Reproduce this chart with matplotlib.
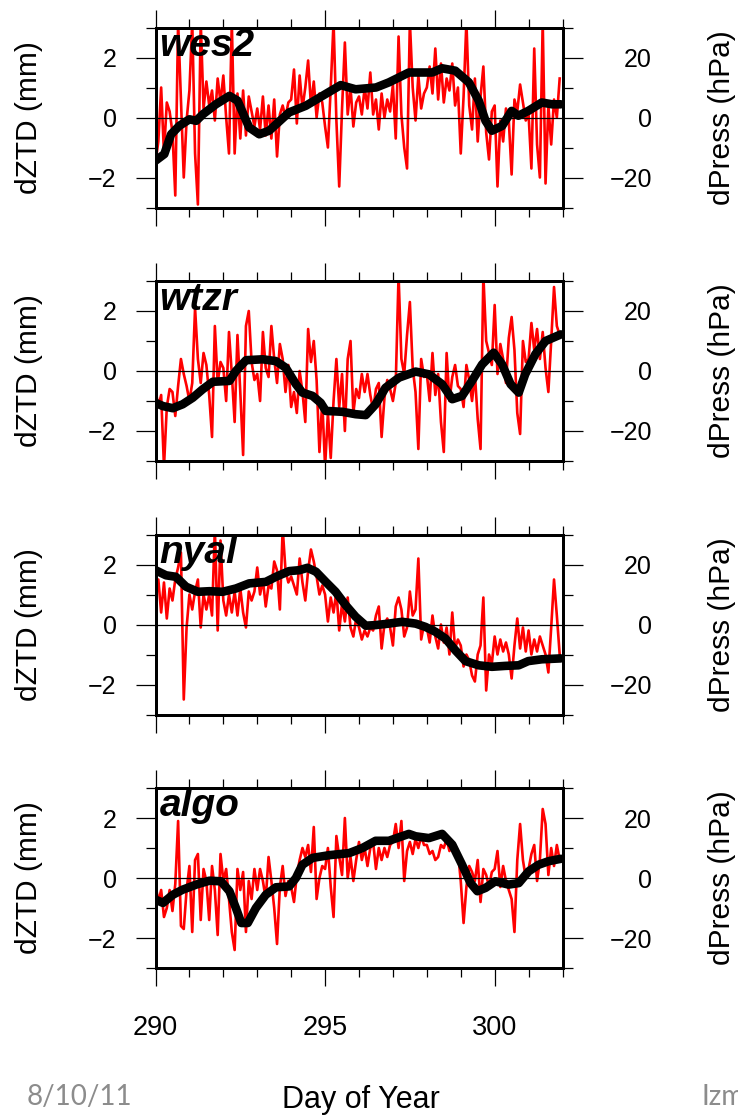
import numpy as np
import matplotlib
matplotlib.use('Agg')
import matplotlib.pyplot as plt
from matplotlib.ticker import MultipleLocator, FixedLocator

plt.rcParams['font.family'] = ['Liberation Sans', 'DejaVu Sans']

# ---------------- data ----------------
stations = ['wes2', 'wtzr', 'nyal', 'algo']
day_start, day_end = 290, 302
samples_per_day = 12
xticks_major = [290, 295, 300]
yticks_left = [-2, 0, 2]
yticks_right = [-20, 0, 20]

# red: dZTD (mm), 12 samples per day from day 290
wes2_red = [
    -1.5, -0.8, 1.0, -1.2, 0.5, 0.2, -0.5, -2.6, 3.2, 0.6, -2.0, -0.1,
    0.9, 3.2, -1.2, -2.9, 3.2, 0.3, 1.2, 0.4, 0.9, -0.1, 1.3, 0.5,
    1.4, 0.0, -1.2, 3.2, -1.2, 0.8, -0.7, 0.9, -0.6, 0.7, 0.2, -0.3,
    0.3, -0.4, 0.7, -0.6, 0.4, -0.7, 0.6, -1.3, 0.1, 0.4, 0.0, 0.5,
    0.6, 1.6, -0.2, 1.4, 0.3, 1.0, 1.9, 0.4, 1.2, 0.0, 0.8, 0.5,
    -0.3, -1.0, 1.0, 3.2, -0.1, -2.3, 0.3, 2.5, 0.1, 1.0, -0.3, 0.5,
    0.7, 0.1, 1.0, 0.3, 1.5, 0.1, 0.6, -0.4, 0.8, 0.0, 0.6, 0.2,
    1.1, -0.7, 2.7, 0.1, -1.0, -1.7, 3.2, 1.0, -0.1, 1.4, 0.3, 0.8,
    1.0, 1.7, 0.8, 2.3, 0.6, 1.8, 0.5, 1.3, 0.9, 1.8, 0.4, 1.0,
    -1.2, 0.7, 3.2, 0.4, -0.4, 1.3, -0.8, 0.7, 1.7, -0.5, -1.4, 0.2,
    0.4, -2.3, -0.1, -0.8, 0.3, -0.1, -1.9, 0.6, 0.2, 1.1, 0.5, -0.1,
    0.1, -1.7, 2.3, -0.9, -2.0, 3.2, -2.2, 0.4, -0.9, 0.6, 0.0, 1.3,
]
wtzr_red = [
    -0.6, -1.2, -0.8, -3.2, -1.2, -0.6, -0.7, -1.5, -0.5, 0.4, -0.1, -0.5,
    -1.0, -0.4, 2.1, 0.4, -0.4, 0.6, 0.2, -0.8, -2.2, 1.5, -0.4, 0.3,
    0.1, -1.0, 1.3, -0.1, -1.7, 1.2, -0.7, -2.8, 1.5, 2.0, 0.3, -0.3,
    -0.1, -1.0, 1.3, 0.1, -0.2, 1.5, 0.4, -0.4, 0.9, 0.4, -0.7, 0.2,
    -1.2, -0.7, -1.4, 0.0, -0.7, -1.7, 1.4, 0.3, 1.0, -0.3, -2.7, -1.0,
    -3.2, -1.4, -2.9, -1.0, 0.4, -1.2, -0.1, -2.0, 0.4, 1.0, -1.4, -0.6,
    -0.9, -0.1, -0.7, -0.1, -0.8, -1.3, -0.6, -0.4, -2.2, -0.9, -0.3, -0.6,
    -1.0, -0.4, 3.2, 0.4, -0.1, 1.2, 2.3, 0.1, -0.7, -2.6, 0.4, -0.2,
    -0.1, -1.0, 0.6, -0.8, -0.1, -1.7, -2.7, 0.6, -1.0, -0.2, 0.2, -0.5,
    -0.6, -1.2, 0.2, -0.3, -1.0, -0.1, -1.6, -2.6, 3.2, 1.0, 0.6, 0.2,
    2.2, -0.1, 0.9, 0.4, -0.4, 1.1, 1.8, 0.7, -1.4, -2.1, 1.0, 0.3,
    0.4, 1.6, 0.7, 1.4, 0.4, 1.3, 0.1, -0.7, 1.0, 2.8, 1.5, 1.2,
]
nyal_red = [
    1.0, 1.5, 0.4, 1.4, 0.2, 1.2, 0.8, 1.5, 1.9, 2.4, -2.5, -0.1,
    1.0, 0.5, 1.1, 1.5, -0.1, 1.0, 0.5, 1.0, 0.3, 3.2, -0.2, 2.8,
    0.8, 0.3, 1.0, 0.4, 1.1, 0.3, 1.2, 0.4, -0.1, 1.1, 0.8, 1.1,
    1.9, 1.0, 1.5, 0.6, 1.3, 1.2, 2.1, 1.8, 0.5, 3.2, 1.8, 1.4,
    1.6, 1.3, 1.0, 2.2, 1.4, 0.8, 1.8, 2.5, 2.1, 1.6, 1.0, 1.3,
    1.0, 0.1, 0.9, 0.4, 1.1, -0.2, 0.7, 0.1, 0.9, -0.1, -0.4, 0.2,
    -0.1, -0.5, -0.2, -0.4, -0.1, -0.2, 0.3, 0.6, -0.8, 0.0, 0.2, -0.1,
    -0.7, 0.6, 0.9, 0.5, -0.4, -0.1, 1.1, 0.3, 0.5, 2.2, -0.5, 0.0,
    -0.1, -0.6, 0.3, -0.4, -0.8, 0.0, -0.6, -0.1, -1.0, 0.4, -0.8, -0.5,
    -0.7, -1.4, -1.0, -1.2, -1.7, -1.9, -1.0, -0.7, 0.9, -2.2, -1.0, -1.3,
    -0.4, -1.0, -0.5, -0.9, -0.6, -1.0, -1.8, -0.7, 0.2, -0.8, -0.1, -0.9,
    -0.2, -1.0, -0.5, -0.9, -0.4, -0.7, -1.0, -1.6, -0.1, 1.5, 0.3, -1.0,
]
algo_red = [
    -0.2, -0.8, -0.4, -1.3, -1.0, -0.4, -1.1, -0.2, 1.9, -1.6, -1.7, -0.4,
    0.4, -1.8, 0.6, 0.8, -1.4, 0.3, -0.1, -1.4, 0.4, -0.4, -1.9, 0.8,
    -0.1, 0.3, -0.7, -1.8, -2.4, 0.3, -0.4, 0.2, -1.8, -0.1, -0.7, 0.3,
    -0.4, 0.3, -0.1, -0.7, 0.7, -0.1, -1.0, -2.2, -0.3, 0.4, -0.6, -0.1,
    -0.3, -0.8, 0.1, 0.6, 1.0, 0.7, 1.1, 0.2, 1.7, -0.7, 0.0, 0.4,
    0.3, 1.0, -0.3, -1.3, 1.4, 0.7, 0.1, 2.0, 0.0, 0.7, -0.1, 0.6,
    1.2, 0.6, 1.0, 0.4, 1.0, 1.2, 0.3, 1.0, 0.6, 1.0, 0.7, 1.1,
    1.2, 1.8, 1.0, 1.9, -0.1, 0.9, 1.2, 0.8, 1.3, 1.0, 1.4, 1.1,
    1.1, 0.8, 0.9, 0.6, 0.7, 1.1, 1.0, 1.3, 0.9, 1.2, 0.8, 0.9,
    -0.1, -1.5, -0.3, 0.4, 0.2, -0.1, 0.6, -0.8, 0.3, 0.1, -0.3, 0.2,
    0.3, 0.9, -0.3, 0.4, -0.1, -0.4, -0.7, -1.8, 0.6, 1.8, 0.6, 0.0,
    0.3, 0.8, 1.1, -0.1, 0.6, 2.3, 1.8, 0.1, 1.0, 0.4, 1.1, 0.6,
]

# black: smoothed curves (day, value)
wes2_bx = [290.0, 290.26, 290.46, 290.7, 291.0, 291.2, 291.4, 291.78, 292.18, 292.42,
           292.76, 293.06, 293.35, 293.94, 294.43, 294.92, 295.46, 295.9, 296.5, 296.88,
           297.47, 298.16, 298.45, 298.84, 299.24, 299.53, 299.73, 299.92, 300.22, 300.5,
           300.7, 300.99, 301.39, 301.69, 301.95]
wes2_by = [-1.44, -1.22, -0.56, -0.28, -0.06, -0.11, 0.11, 0.44, 0.72, 0.56,
           -0.33, -0.56, -0.44, 0.17, 0.39, 0.72, 1.08, 0.94, 1.0, 1.17,
           1.5, 1.5, 1.64, 1.56, 1.17, 0.56, -0.11, -0.44, -0.28, 0.22,
           0.06, 0.22, 0.5, 0.44, 0.44]
wtzr_bx = [290.0, 290.22, 290.51, 290.8, 291.1, 291.39, 291.69, 292.18, 292.37, 292.67,
           293.16, 293.55, 293.84, 294.14, 294.33, 294.63, 294.87, 295.02, 295.51, 295.9,
           296.2, 296.49, 296.78, 297.18, 297.67, 298.06, 298.45, 298.75, 299.04, 299.33,
           299.63, 299.97, 300.22, 300.47, 300.71, 300.9, 301.2, 301.5, 301.95]
wtzr_by = [-1.06, -1.17, -1.24, -1.11, -0.89, -0.61, -0.36, -0.33, 0.0, 0.36,
           0.39, 0.33, 0.11, -0.44, -0.72, -0.83, -1.06, -1.33, -1.36, -1.44,
           -1.47, -1.11, -0.56, -0.22, -0.02, -0.11, -0.44, -0.94, -0.83, -0.33,
           0.22, 0.61, 0.22, -0.44, -0.72, -0.11, 0.56, 1.0, 1.22]
nyal_bx = [290.0, 290.31, 290.6, 290.9, 291.25, 291.59, 291.98, 292.37, 292.76, 293.25,
           293.55, 293.94, 294.24, 294.48, 294.73, 295.02, 295.31, 295.61, 295.9, 296.2,
           296.49, 296.88, 297.27, 297.67, 297.96, 298.25, 298.55, 298.84, 299.14, 299.53,
           299.92, 300.31, 300.71, 300.99, 301.39, 301.95]
nyal_by = [1.81, 1.64, 1.59, 1.26, 1.09, 1.11, 1.09, 1.2, 1.37, 1.42,
           1.59, 1.78, 1.81, 1.89, 1.76, 1.42, 1.09, 0.64, 0.26, -0.04,
           -0.02, 0.03, 0.09, 0.03, -0.08, -0.24, -0.47, -0.86, -1.22, -1.36,
           -1.41, -1.38, -1.36, -1.22, -1.16, -1.13]
algo_bx = [290.0, 290.22, 290.51, 290.8, 291.2, 291.59, 291.93, 292.18, 292.37, 292.53,
           292.72, 292.96, 293.25, 293.55, 293.94, 294.14, 294.33, 294.63, 295.12, 295.71,
           296.1, 296.49, 296.88, 297.47, 297.67, 298.06, 298.45, 298.75, 299.04, 299.29,
           299.49, 299.73, 300.02, 300.41, 300.71, 301.0, 301.29, 301.59, 301.95]
algo_by = [-0.72, -0.83, -0.56, -0.39, -0.22, -0.09, -0.11, -0.44, -1.0, -1.5,
           -1.5, -1.0, -0.56, -0.31, -0.28, 0.0, 0.44, 0.67, 0.76, 0.83,
           1.0, 1.24, 1.24, 1.47, 1.39, 1.33, 1.47, 1.11, 0.44, -0.17,
           -0.44, -0.33, -0.11, -0.22, -0.17, 0.22, 0.44, 0.56, 0.64]

red_series = [wes2_red, wtzr_red, nyal_red, algo_red]
black_x = [wes2_bx, wtzr_bx, nyal_bx, algo_bx]
black_y = [wes2_by, wtzr_by, nyal_by, algo_by]

# ---------------- figure ----------------
W, H = 738, 1115
fig = plt.figure(figsize=(W / 100, H / 100), dpi=100)

left_px, width_px, height_px = 155.5, 407.0, 180.0
tops = [27.5, 281.0, 534.5, 788.0]

for i, name in enumerate(stations):
    top = tops[i]
    ax = fig.add_axes([left_px / W, 1 - (top + height_px) / H, width_px / W, height_px / H])
    red = red_series[i]
    t = day_start + np.arange(len(red)) / samples_per_day
    ax.plot(t, red, color='#ff0000', lw=1.9, zorder=2)
    ax.axhline(0, color='black', lw=0.9, zorder=3)
    ax.plot(black_x[i], black_y[i], color='black', lw=6.2,
            solid_capstyle='round', solid_joinstyle='round', zorder=4)
    ax.set_xlim(day_start, day_end)
    ax.set_ylim(-3, 3)
    ax.xaxis.set_major_locator(FixedLocator(xticks_major))
    ax.xaxis.set_minor_locator(MultipleLocator(1))
    ax.yaxis.set_major_locator(FixedLocator(yticks_left))
    ax.yaxis.set_minor_locator(MultipleLocator(1))
    ax.tick_params(axis='both', which='both', direction='out', top=True, bottom=True,
                   left=True, right=False, width=0.9, color='black')
    ax.tick_params(axis='y', which='major', length=14.4, pad=13.5, labelsize=18)
    ax.tick_params(axis='y', which='minor', length=7.2)
    ax.tick_params(axis='x', which='major', length=13.0, pad=21, labelsize=19.5)
    ax.tick_params(axis='x', which='minor', length=6.5)
    if i < 3:
        ax.tick_params(axis='x', labelbottom=False)
    for sp in ax.spines.values():
        sp.set_linewidth(2.1)
        sp.set_zorder(6)
    ax.text(day_start + 0.12, 3 - 28.5 / 30, name, fontsize=28, fontweight='bold',
            fontstyle='italic', ha='left', va='baseline', zorder=7)

    ax2 = ax.twinx()
    ax2.set_ylim(-30, 30)
    ax2.yaxis.set_major_locator(FixedLocator(yticks_right))
    ax2.yaxis.set_minor_locator(MultipleLocator(10))
    ax2.tick_params(axis='y', which='both', direction='out', right=True, left=False,
                    width=0.9, color='black')
    ax2.tick_params(axis='y', which='major', length=14.4, pad=50, labelsize=18)
    ax2.tick_params(axis='y', which='minor', length=7.2)
    plt.setp(ax2.get_yticklabels(), ha='right')
    for sp in ax2.spines.values():
        sp.set_linewidth(2.1)

    cy = 1 - (top + height_px / 2) / H
    fig.text(29 / W, cy, 'dZTD (mm)', rotation=90, ha='center', va='center', fontsize=21.5)
    fig.text(722 / W, cy, 'dPress (hPa)', rotation=90, ha='center', va='center', fontsize=21.5)

fig.text(361 / W, 1 - 1108 / H, 'Day of Year', ha='center', va='baseline', fontsize=22)
fig.text(27 / W, 1 - 1105 / H, '8/10/11', ha='left', va='baseline', fontsize=20,
         color='#8c8c8c', family=['Lato', 'DejaVu Sans'])
fig.text(702 / W, 1 - 1105 / H, 'Izm', ha='left', va='baseline', fontsize=20,
         color='#8c8c8c', family=['Lato', 'DejaVu Sans'])

fig.savefig('out.png', dpi=100)
